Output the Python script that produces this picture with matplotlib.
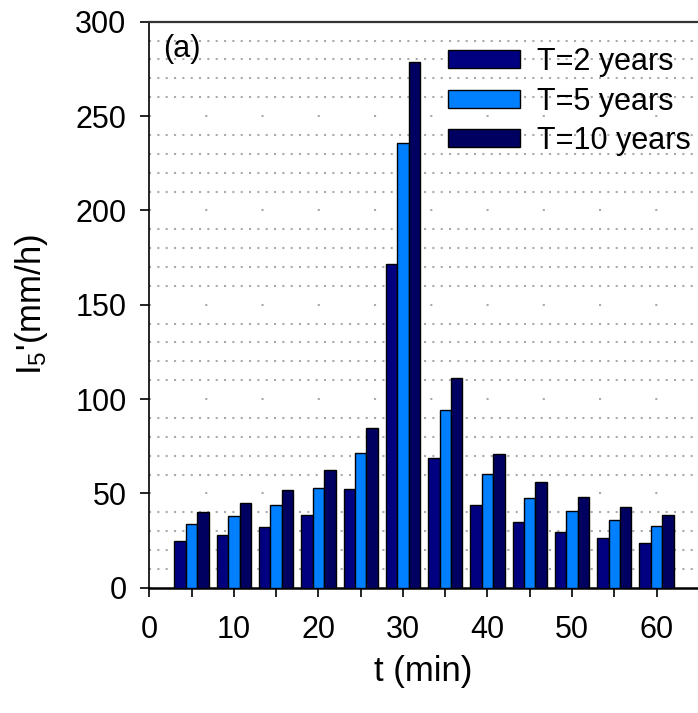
import numpy as np
import matplotlib
matplotlib.use("Agg")
import matplotlib.pyplot as plt
from matplotlib.ticker import MultipleLocator

plt.rcParams['font.family'] = ['Liberation Sans', 'DejaVu Sans']
plt.rcParams['mathtext.fontset'] = 'custom'
plt.rcParams['mathtext.rm'] = 'Liberation Sans'
plt.rcParams['mathtext.it'] = 'Liberation Sans:italic'
plt.rcParams['lines.scale_dashes'] = False

# ------------------------------------------------
# Data
# ------------------------------------------------
t_min = [5, 10, 15, 20, 25, 30, 35, 40, 45, 50, 55, 60]
i_T2 = [24.9, 27.8, 32.0, 38.6, 52.3, 171.5, 68.7, 43.9, 34.7, 29.6, 26.2, 23.8]
i_T5 = [34.0, 38.1, 43.6, 52.8, 71.5, 235.7, 94.1, 60.2, 47.7, 40.5, 35.8, 32.5]
i_T10 = [40.2, 44.9, 51.6, 62.2, 84.7, 278.4, 111.1, 71.0, 56.2, 48.0, 42.6, 38.4]
labels = ["T=2 years", "T=5 years", "T=10 years"]
colors = ["#000080", "#0080FF", "#000060"]

fig = plt.figure(figsize=(6.98, 7.13), dpi=100)
ax = fig.add_axes([149.3 / 698, 1 - 587.7 / 713, 1 - 149.3 / 698, (587.7 - 21.7) / 713])

x = np.array(t_min, dtype=float)
w = 1.35
for k, (vals, lab, col) in enumerate(zip([i_T2, i_T5, i_T10], labels, colors)):
    ax.bar(x + (k - 1) * w, vals, width=w, color=col, edgecolor='black',
           linewidth=1.0, label=lab, zorder=3)

ax.set_xlim(0, 64.9)
ax.set_ylim(0, 300)

# ticks
ax.xaxis.set_major_locator(MultipleLocator(10))
ax.xaxis.set_minor_locator(MultipleLocator(5))
ax.yaxis.set_major_locator(MultipleLocator(50))
ax.yaxis.set_minor_locator(MultipleLocator(10))
ax.tick_params(axis='x', which='both', direction='out', length=6.5, width=1.2,
               labelsize=22, pad=13)
ax.tick_params(axis='y', which='major', direction='out', length=6.5, width=1.2,
               labelsize=22, pad=10)
ax.tick_params(axis='y', which='minor', length=0)

# dotted grid: dense at every 10, sparse dots at every 50
ax.grid(which='minor', axis='y', color='#aaaaaa', linewidth=1.5,
        linestyle=(0, (1.5, 4.5)), zorder=0)
ax.grid(which='major', axis='y', color='#aaaaaa', linewidth=1.5,
        linestyle=(0, (1.5, 39)), zorder=0)
ax.grid(which='both', axis='x', visible=False)

ax.spines['right'].set_visible(False)
ax.spines['top'].set_color('#333333')
ax.spines['top'].set_linewidth(1.6)
ax.spines['left'].set_linewidth(1.2)
ax.spines['bottom'].set_linewidth(1.8)

ax.set_xlabel("t (min)", fontsize=25, labelpad=7)
ax.set_ylabel(r"I$_5$'(mm/h)", fontsize=25, labelpad=18)

ax.text(1.6, 285.5, "(a)", fontsize=22, va='center', ha='left')

ax.legend(loc='upper left', bbox_to_anchor=(0.545, 0.955), frameon=False,
          fontsize=22, handlelength=2.35, handleheight=0.52,
          handletextpad=0.55, labelspacing=0.31, borderpad=0, borderaxespad=0)

fig.savefig("out.png", dpi=100)
